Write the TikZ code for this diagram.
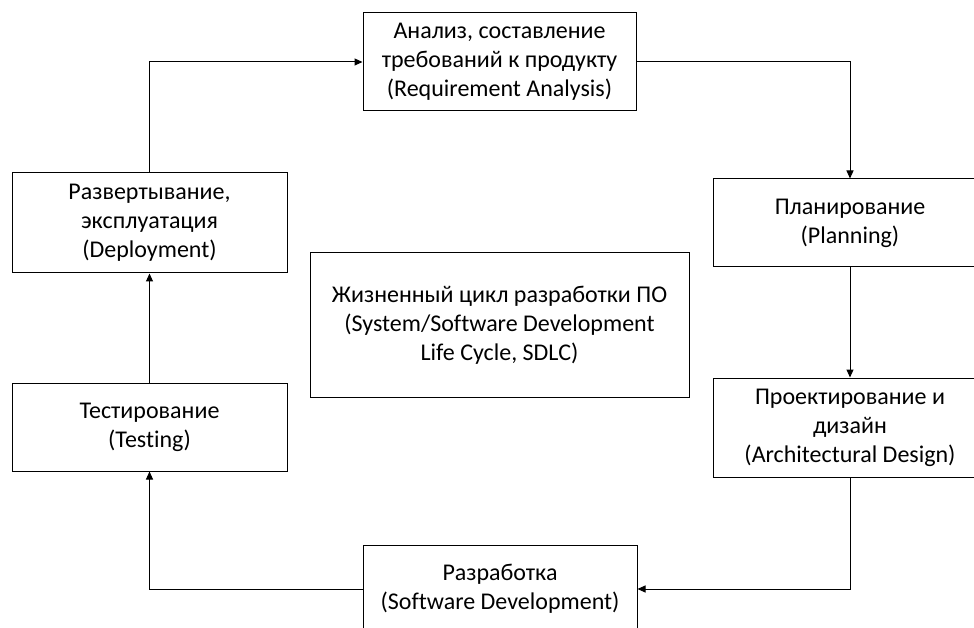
\documentclass[tikz,border=0pt]{standalone}
\usepackage{fontspec}
\setmainfont{Carlito}[Ligatures={NoCommon}]
\usetikzlibrary{arrows.meta}
\begin{document}
\begin{tikzpicture}[x=1pt,y=-1pt,
  box/.style={draw, line width=1pt, align=center, inner sep=0pt,
    font=\fontsize{24}{29}\selectfont},
  conn/.style={line width=1pt, -{Triangle[length=8pt,width=7pt]}}]
\useasboundingbox (0,0) rectangle (974,628);
\clip (0,0) rectangle (974,628);
\node[box, minimum width=273pt, minimum height=98pt] (top) at (499.5,62) {Анализ, составление\\требований к продукту\\(Requirement Analysis)};
\node[box, minimum width=275pt, minimum height=100pt] (dep) at (149.5,223) {Развертывание,\\эксплуатация\\(Deployment)};
\node[box, minimum width=274pt, minimum height=88pt] (plan) at (850,223) {Планирование\\(Planning)};
\node[box, minimum width=274pt, minimum height=99pt] (des) at (850,427.5) {Проектирование и\\дизайн\\(Architectural Design)};
\node[box, minimum width=274pt, minimum height=88pt] (dev) at (500,589) {Разработка\\(Software Development)};
\node[box, minimum width=275pt, minimum height=88pt] (test) at (149.5,427) {Тестирование\\(Testing)};
\node[box, minimum width=379pt, minimum height=144pt] (mid) at (499.5,325) {Жизненный цикл разработки ПО\\(System/Software Development\\Life Cycle, SDLC)};
\draw[conn] (dep.north) |- (top.west);
\draw[conn] (top.east) -| (plan.north);
\draw[conn] (plan.south) -- (des.north);
\draw[conn] (des.south) |- (dev.east);
\draw[conn] (dev.west) -| (test.south);
\draw[conn] (test.north) -- (dep.south);
\end{tikzpicture}
\end{document}
